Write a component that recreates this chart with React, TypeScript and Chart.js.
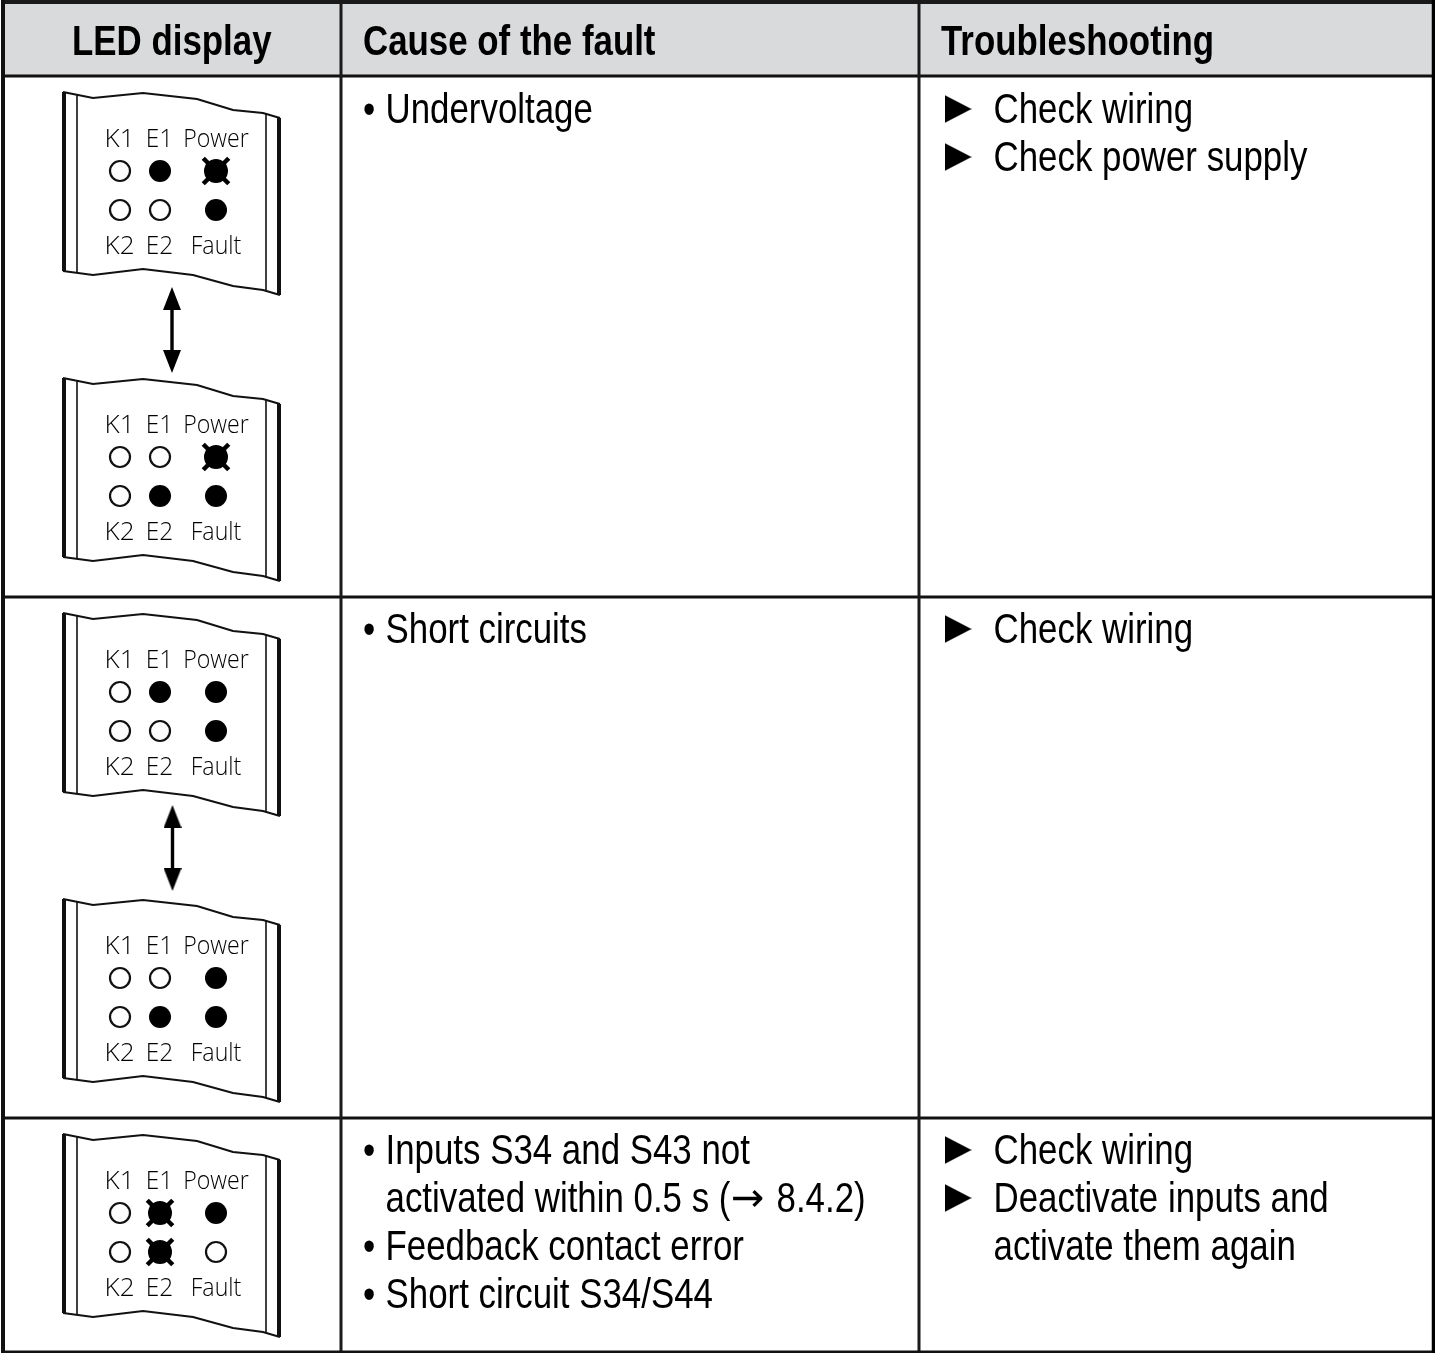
import React, { useEffect, useRef } from "react";
import { Chart, registerables } from "chart.js";

Chart.register(...registerables);

// ---- content ----
const headers = ["LED display", "Cause of the fault", "Troubleshooting"];
const causeLines = [
  "• Undervoltage",
  "• Short circuits",
  "• Inputs S34 and S43 not",
  "activated within 0.5 s (→ 8.4.2)",
  "• Feedback contact error",
  "• Short circuit S34/S44",
];
const fixLines = [
  "Check wiring",
  "Check power supply",
  "Check wiring",
  "Check wiring",
  "Deactivate inputs and",
  "activate them again",
];
const ledTop = ["K1", "E1", "Power"];
const ledBottom = ["K2", "E2", "Fault"];

// LED state per panel, row by row: K1 E1 Power / K2 E2 Fault. 0 off, 1 on, 2 flashing
const panelStates = [
  [0, 1, 2, 0, 0, 1],
  [0, 0, 2, 0, 1, 1],
  [0, 1, 1, 0, 0, 1],
  [0, 0, 1, 0, 1, 1],
  [0, 2, 1, 0, 2, 0],
];

// ---- layout, in image pixels (the chart's axes run over the image) ----
const panelShift = [0, 286, 521, 807, 1042];
const arrowShift = [0, 518];
const ledX = [120, 160, 216];
const ledY = [171, 210];
const labelX = [119.5, 159.5, 216];
const labelScale = [1, 0.94, 0.89];
const labelY = [147, 254];
const panelTopEdge = [[63, 92], [93, 98], [143, 93], [197, 99], [233, 110], [263, 113], [280, 118]];
const panelBottomEdge = [[63, 271], [93, 275], [143, 269], [193, 275], [233, 286], [263, 290], [280, 295]];
const innerHLines = [76, 597, 1118];
const innerVLines = [341, 919];
const headerX = [72, 363, 941];
const causeY = [123, 643, 1164, 1212, 1260, 1308];
const fixY = [123, 171, 643, 1164, 1212, 1260];
const triRows = [0, 1, 2, 3, 4];
const bulletX = 363;
const causeX = 385.5;
const fixX = 993.5;
const triX = 958;
const arrowGlyphX = 731;
const afterArrowX = 776.5;
const narrow = 0.83;

const W = 1435;
const H = 1353;

function glyph(w: number, h: number, pts: number[][]) {
  const c = document.createElement("canvas");
  c.width = w;
  c.height = h;
  const g = c.getContext("2d")!;
  g.fillStyle = "#000";
  g.beginPath();
  pts.forEach(([x, y], i) => (i ? g.lineTo(x, y) : g.moveTo(x, y)));
  g.closePath();
  g.fill();
  return c;
}

function xy(list: number[][], dy = 0) {
  return list.map(([x, y]) => ({ x, y: y + dy }));
}

function buildDatasets() {
  const paint: any[] = [];
  const line = (data: any[], width: number, color = "#111") =>
    paint.push({
      data,
      showLine: true,
      borderColor: color,
      borderWidth: width,
      pointRadius: 0,
      tension: 0,
      clip: false,
    });
  const marks = (data: any[], extra: any) =>
    paint.push({ data, showLine: false, clip: false, ...extra });

  line([{ x: 3, y: 39 }, { x: 1432, y: 39 }], 74, "#d9dadc");
  innerHLines.forEach((y) => line([{ x: 1, y }, { x: W, y }], 3));
  innerVLines.forEach((x) => line([{ x, y: 0 }, { x, y: H }], 3, "#1a1a1a"));
  line([{ x: 1, y: 2 }, { x: W, y: 2 }], 4, "#1a1a1a");
  line([{ x: 1, y: 1352 }, { x: W, y: 1352 }], 3, "#111");
  line([{ x: 3, y: 0 }, { x: 3, y: H }], 4, "#111");
  line([{ x: 1433.5, y: 0 }, { x: 1433.5, y: H }], 3.5, "#000");

  panelShift.forEach((dy, p) => {
    line(xy(panelTopEdge, dy), 2.2);
    line(xy(panelBottomEdge, dy), 2.2);
    line(xy([[64, 92], [64, 271]], dy), 4);
    line(xy([[77, 95], [77, 273]], dy), 1.6);
    line(xy([[266, 113], [266, 291]], dy), 1.6);
    line(xy([[279, 118], [279, 295]], dy), 4);

    const all = panelStates[p].map((state, i) => ({
      state,
      x: ledX[i % 3],
      y: ledY[i < 3 ? 0 : 1] + dy,
    }));
    const pick = (s: number) => all.filter((d) => d.state === s).map(({ x, y }) => ({ x, y }));
    marks(pick(0), { pointStyle: "circle", pointRadius: 10, pointBorderWidth: 2.2, pointBorderColor: "#111", pointBackgroundColor: "#fff" });
    marks(pick(1), { pointStyle: "circle", pointRadius: 11, pointBorderWidth: 0, pointBackgroundColor: "#000" });
    marks(pick(2), { pointStyle: "circle", pointRadius: 12, pointBorderWidth: 0, pointBackgroundColor: "#000" });
    marks(pick(2), { pointStyle: "crossRot", pointRadius: 18, pointBorderWidth: 4.5, pointBorderColor: "#000", pointBackgroundColor: "#000" });
  });

  const up = glyph(18, 23, [[9, 0], [18, 23], [0, 23]]);
  const down = glyph(18, 23, [[0, 0], [18, 0], [9, 23]]);
  const right = glyph(27, 28, [[0, 0], [27, 14], [0, 28]]);
  arrowShift.forEach((dy, i) => {
    const x = 172 + i * 0.5;
    line(xy([[x, 300], [x, 360]], dy), 3.4, "#000");
    marks(xy([[x, 298.5]], dy), { pointStyle: up, pointRadius: 1 });
    marks(xy([[x, 361.5]], dy), { pointStyle: down, pointRadius: 1 });
  });
  marks(
    triRows.map((r) => ({ x: triX, y: fixY[r] - 14 })),
    { pointStyle: right, pointRadius: 1 },
  );
  return paint.reverse();
}

const textPlugin = {
  id: "tableText",
  afterDatasetsDraw(chart: any) {
    const { ctx, scales } = chart;
    const X = (v: number) => scales.x.getPixelForValue(v);
    const Y = (v: number) => scales.y.getPixelForValue(v);
    const squeezed = (t: string, x: number, y: number, sx = narrow) => {
      ctx.save();
      ctx.translate(X(x), Y(y));
      ctx.scale(sx, 1);
      ctx.fillText(t, 0, 0);
      ctx.restore();
    };
    const body = '42px "Liberation Sans"';
    ctx.save();
    ctx.fillStyle = "#000";
    ctx.textBaseline = "alphabetic";
    ctx.textAlign = "left";
    ctx.font = 'bold 42px "Liberation Sans"';
    headers.forEach((t, i) => squeezed(t, headerX[i], 55));
    ctx.font = body;
    causeLines.forEach((t, i) => {
      const y = causeY[i];
      let rest = t;
      if (t.startsWith("• ")) {
        squeezed("•", bulletX, y);
        rest = t.slice(2);
      }
      if (rest.includes("→")) {
        const [before, after] = rest.split("→");
        squeezed(before, causeX, y);
        ctx.font = '40px "DejaVu Sans"';
        squeezed("→", arrowGlyphX, y - 1, 1);
        ctx.font = body;
        squeezed(after.trim(), afterArrowX, y);
      } else {
        squeezed(rest, causeX, y);
      }
    });
    fixLines.forEach((t, i) => squeezed(t, fixX, fixY[i]));
    ctx.textAlign = "center";
    ctx.font = '300 26px "Open Sans"';
    panelShift.forEach((dy) => {
      ledTop.forEach((t, i) => squeezed(t, labelX[i], labelY[0] + dy, labelScale[i]));
      ledBottom.forEach((t, i) => squeezed(t, labelX[i], labelY[1] + dy, labelScale[i]));
    });
    ctx.restore();
  },
};

export default function App() {
  const ref = useRef<HTMLCanvasElement>(null);
  useEffect(() => {
    const chart = new Chart(ref.current!, {
      type: "scatter",
      data: { datasets: buildDatasets() },
      options: {
        animation: false,
        responsive: false,
        devicePixelRatio: 1,
        layout: { padding: 0, autoPadding: false },
        events: [],
        plugins: { legend: { display: false }, tooltip: { enabled: false }, title: { display: false } },
        scales: {
          x: { type: "linear", min: 0, max: W, display: false },
          y: { type: "linear", min: 0, max: H, reverse: true, display: false },
        },
      },
      plugins: [textPlugin],
    } as any);
    return () => chart.destroy();
  }, []);
  return (
    <canvas
      ref={ref}
      width={W}
      height={H}
      style={{ position: "absolute", left: 0, top: 0, display: "block", background: "#fff" }}
    />
  );
}
